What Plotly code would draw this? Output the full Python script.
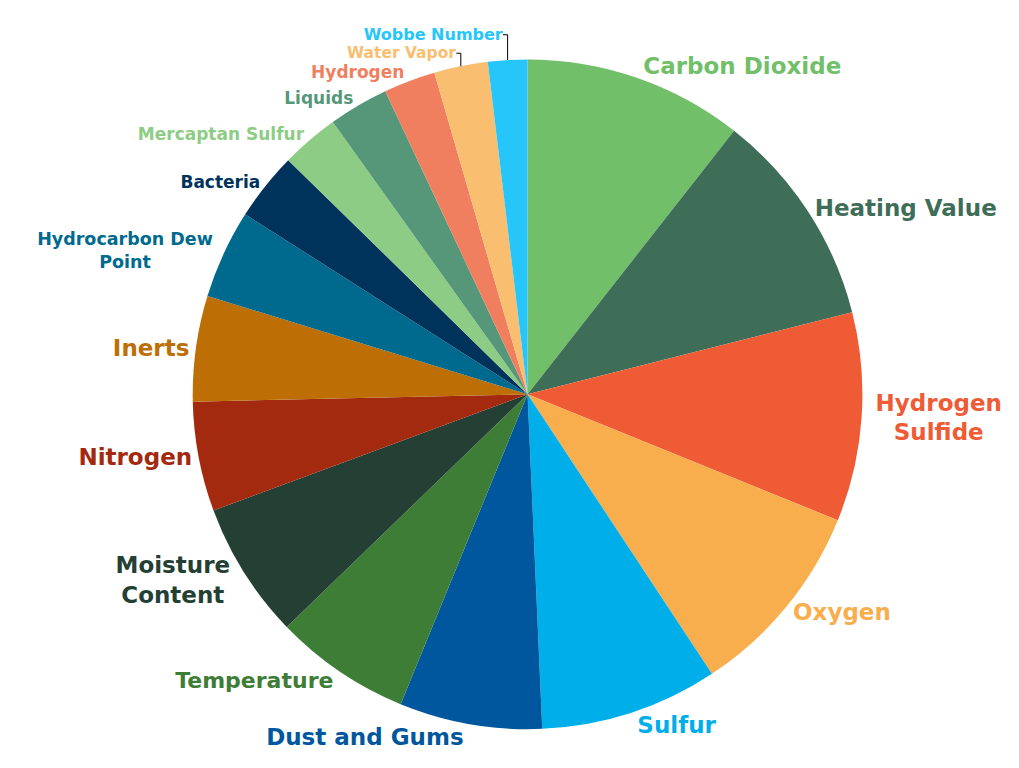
import plotly.graph_objects as go

labels = ["Carbon Dioxide", "Heating Value", "Hydrogen<br>Sulfide", "Oxygen", "Sulfur",
          "Dust and Gums", "Temperature", "Moisture<br>Content", "Nitrogen", "Inerts",
          "Hydrocarbon Dew<br>Point", "Bacteria", "Mercaptan Sulfur", "Liquids", "Hydrogen",
          "Water Vapor", "Wobbe Number"]
values = [10.6, 10.5, 10.1, 9.6, 8.6, 6.9, 6.6, 6.6, 5.3, 5.1, 4.3, 3.3, 2.8, 2.9, 2.5, 2.6, 1.9]
colors = ["#72BF69", "#3F6E58", "#EF5B35", "#F9AE4E", "#00AEEA", "#00579D", "#3E7D36",
          "#243F33", "#A32A0F", "#BD6F06", "#006A8E", "#00335B", "#8DCC84", "#56977A",
          "#F07F60", "#F9BE6F", "#26C6FB"]
label_sizes = [23, 23, 23, 23, 23, 23, 22, 23, 23, 23, 17.5, 17, 17, 17, 17, 15.5, 16]

fig = go.Figure(go.Pie(
    labels=labels,
    values=values,
    sort=False,
    direction="clockwise",
    rotation=0,
    marker=dict(colors=colors, line=dict(width=0)),
    textinfo="label",
    textposition="outside",
    textfont=dict(family="DejaVu Sans", color=colors, size=label_sizes, weight="bold"),
    showlegend=False,
    hoverinfo="label+percent",
    domain=dict(x=[0.178, 0.878], y=[0.061, 0.933]),
))

fig.update_layout(
    width=1019, height=768,
    margin=dict(l=0, r=0, t=0, b=0),
    paper_bgcolor="white",
    plot_bgcolor="white",
)

fig.write_html("out.html")
